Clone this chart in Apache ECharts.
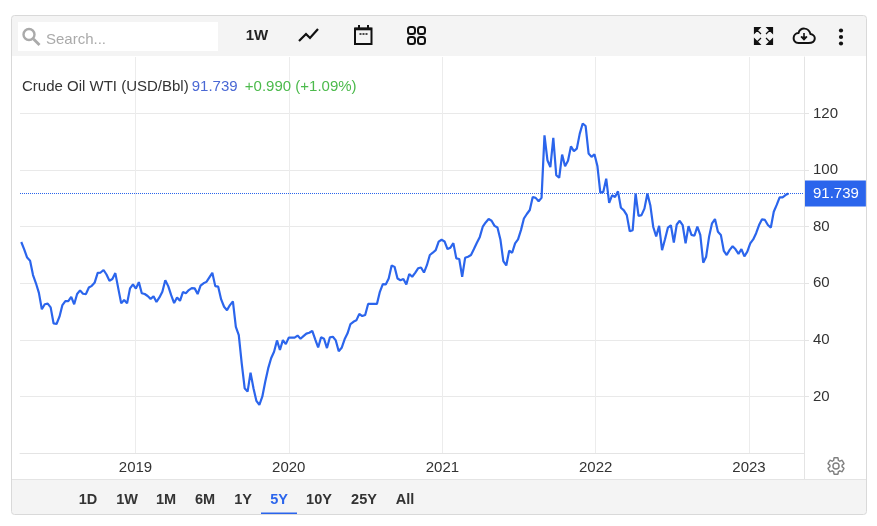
<!DOCTYPE html>
<html>
<head>
<meta charset="utf-8">
<title>Crude Oil WTI</title>
<style>
  html, body { margin: 0; padding: 0; background: #fff; }
  #chart { width: 877px; height: 526px; }
</style>
<script src="https://cdn.jsdelivr.net/npm/echarts@6/dist/echarts.min.js"></script>
</head>
<body>
<div id="chart"></div>
<script>
// weekly closes
const prices = [
  74.6, 72.0, 69.1, 68.0, 62.9, 60.0, 56.6, 50.8, 52.6, 52.8, 51.5, 45.8, 45.6, 48.2, 52.3, 53.7, 53.7, 55.2, 52.6, 56.2,
  57.5, 56.3, 56.2, 58.5, 59.1, 60.3, 63.7, 63.8, 64.7, 63.1, 60.9, 61.5, 63.6, 58.2, 52.9, 54.1, 52.9, 58.2, 59.6, 58.1,
  60.4, 56.5, 56.2, 55.5, 54.5, 55.4, 53.4, 55.0, 57.0, 61.1, 59.0, 55.8, 53.0, 55.0, 53.8, 56.9, 56.5, 57.6, 58.3, 58.2,
  56.2, 59.2, 60.0, 60.5, 62.1, 63.7, 59.0,
  58.8, 54.3, 51.7, 50.5, 52.3, 53.6, 44.6, 41.7, 31.7, 22.9, 21.7, 28.4, 22.9, 18.4, 17.0, 19.9, 25.2, 29.9, 33.5, 35.8,
  39.8, 36.4, 39.9, 38.5, 40.8, 40.8, 40.8, 41.5, 40.4, 41.3, 42.2, 42.5, 43.2, 40.2, 37.3, 40.9, 40.4, 37.1, 40.9, 41.1,
  39.8, 36.0, 37.2, 40.2, 42.3, 45.6, 46.4, 46.9, 49.2, 48.4, 48.8, 52.7, 52.7, 52.7, 52.7, 57.0, 59.7, 59.6, 61.7, 66.3,
  65.8, 61.7, 61.1,
  61.5, 59.6, 63.3, 62.3, 63.7, 65.3, 65.6, 63.8, 66.4, 70.0, 70.8, 71.7, 74.7, 75.4, 74.8, 72.1, 72.6, 74.2, 68.8, 68.6,
  62.3, 69.0, 69.4, 70.0, 72.1, 74.3, 76.4, 80.0, 81.5, 82.7, 82.1, 80.3, 79.7, 75.5, 67.8, 66.3, 71.5, 70.8, 74.1, 75.5,
  78.8, 82.9, 84.5, 85.9, 90.5,
  90.2, 89.0, 90.2, 112.3, 103.5, 101.1, 111.4, 98.2, 97.3, 105.5, 101.4, 103.3, 108.4, 106.7, 107.6, 112.9, 116.5, 115.6,
  105.9, 104.7, 105.6, 101.5, 92.0, 92.3, 97.0, 88.4, 91.1, 90.5, 92.5, 86.7, 85.8, 84.1, 78.4, 78.8, 91.7, 83.8, 84.1,
  86.4, 91.7, 87.6, 79.9, 76.6, 80.3, 71.7, 75.6, 79.7, 80.5,
  74.4, 80.8, 82.1, 80.6, 74.1, 80.2, 77.1, 76.8, 80.0, 77.1, 67.3, 69.4, 76.5, 81.2, 82.7, 78.2, 77.1, 71.5, 70.0, 71.8,
  73.1, 72.0, 70.4, 72.1, 69.5, 71.2, 74.1, 75.5, 77.7, 80.6, 82.6, 82.4, 80.6, 79.7, 85.3, 87.7, 90.4, 90.4, 91.2, 91.739
];
const yearTicks = ['2019-01-01', '2020-01-01', '2021-01-01', '2022-01-01', '2023-01-01'];
const priceTicks = [20, 40, 60, 80, 100, 120];
const ranges = [['1D', 88], ['1W', 127], ['1M', 166], ['6M', 205], ['1Y', 243], ['5Y', 279], ['10Y', 319], ['25Y', 364], ['All', 405]];
const lastPrice = prices[prices.length - 1];

const BLUE = '#2b65ec';
const DARK = '#333333';
const FONT = '"Liberation Sans", Arial';
const WEEK = 7 * 24 * 3600 * 1000;
const startTime = Date.UTC(2018, 3, 4);
const lineData = prices.map((p, i) => [startTime + i * WEEK, p]);
const yearTimes = yearTicks.map(d => Date.parse(d));

const box = (x, y, width, height, fill, extra) => ({
  type: 'rect', silent: true, z: 10,
  shape: Object.assign({ x, y, width, height }, extra && extra.shape),
  style: Object.assign({ fill }, extra && extra.style)
});
const label = (text, x, y, style) => ({
  type: 'text', silent: true, z: 11, x, y,
  style: Object.assign({ text, font: `bold 14.5px ${FONT}`, fill: DARK, textAlign: 'center', textVerticalAlign: 'middle' }, style)
});
const square = (x, y) => ({
  type: 'rect', silent: true, z: 11,
  shape: { x, y, width: 7, height: 7, r: 2.5 },
  style: { fill: 'none', stroke: '#111', lineWidth: 2 }
});

// the graphic component has no path type, so each icon gets registered as its own shape
let iconCount = 0;
const icon = (pathData, style, place) => {
  const name = 'toolIcon' + iconCount++;
  echarts.graphic.registerShape(name, echarts.graphic.extendPath(pathData, {}));
  return Object.assign({
    type: name, silent: true, z: 11,
    style: Object.assign({ fill: 'none', stroke: '#111', lineWidth: 2 }, style)
  }, place);
};

const gear = 'M19.14 12.94c.04-.3.06-.61.06-.94 0-.32-.02-.64-.07-.94l2.03-1.58c.18-.14.23-.41.12-.61l-1.92-3.32c-.12-.22-.37-.29-.59-.22l-2.39.96c-.5-.38-1.03-.7-1.62-.94l-.36-2.54c-.04-.24-.24-.41-.48-.41h-3.84c-.24 0-.43.17-.47.41l-.36 2.54c-.59.24-1.13.57-1.62.94l-2.39-.96c-.22-.08-.47 0-.59.22L2.74 8.87c-.12.21-.08.47.12.61l2.03 1.58c-.05.3-.09.63-.09.94s.02.64.07.94l-2.03 1.58c-.18.14-.23.41-.12.61l1.92 3.32c.12.22.37.29.59.22l2.39-.96c.5.38 1.03.7 1.62.94l.36 2.54c.05.24.24.41.48.41h3.84c.24 0 .44-.17.47-.41l.36-2.54c.59-.24 1.13-.56 1.62-.94l2.39.96c.22.08.47 0 .59-.22l1.92-3.32c.12-.22.07-.47-.12-.61l-2.01-1.58zM12 15.6c-1.98 0-3.6-1.62-3.6-3.6s1.62-3.6 3.6-3.6 3.6 1.62 3.6 3.6-1.62 3.6-3.6 3.6z';

const graphics = [
  // frame and bars
  box(12, 16, 854, 40, '#f4f4f4'),
  box(12, 479, 854, 35, '#f4f4f4'),
  box(18, 22, 200, 29, '#ffffff'),
  { type: 'line', silent: true, z: 11, shape: { x1: 12, y1: 479.5, x2: 866, y2: 479.5 }, style: { stroke: '#e4e4e4' } },
  { type: 'line', silent: true, z: 11, shape: { x1: 804.5, y1: 453, x2: 804.5, y2: 479 }, style: { stroke: '#e4e4e4' } },
  box(11.5, 15.5, 855, 499, 'none', { shape: { r: 3 }, style: { stroke: '#d9d9d9', lineWidth: 1 } }),

  // search box
  { type: 'circle', silent: true, z: 11, shape: { cx: 29, cy: 34.5, r: 5.5 }, style: { fill: 'none', stroke: '#aaaaaa', lineWidth: 2.4 } },
  icon('M33.5 39 L39.5 45', { stroke: '#aaaaaa', lineWidth: 2.8 }),
  label('Search...', 46, 39.5, { font: `15px ${FONT}`, fill: '#aaaaaa', textAlign: 'left' }),

  // toolbar
  label('1W', 257, 36, { font: `bold 15px ${FONT}`, fill: '#222' }),
  icon('M299 41 L306 34 L310 38 L318 29', { lineWidth: 2.2 }),
  icon('M355 28.5 H371.5 V44 H355 Z M359 25 V28 M368 25 V28'),
  icon('M355 29 H371.5', { lineWidth: 2.6 }),
  icon('M359.5 34 H367.5', { lineWidth: 1.5, lineDash: [2, 1] }),
  square(408, 27), square(418, 27), square(408, 37), square(418, 37),
  icon('M754.5 33 V27.5 H760 Z M772.5 33 V27.5 H767 Z M754.5 39 V44.5 H760 Z M772.5 39 V44.5 H767 Z M757 30 L761 34 M770 30 L766 34 M757 42 L761 38 M770 42 L766 38', { fill: '#111', lineWidth: 1.2 }),
  icon('M798.5 43 H808.5 C816.5 43 816.5 35 810.5 34 C808.5 27 800.5 27 798.5 33 C792.5 33 791.5 43 798.5 43 Z'),
  icon('M804 33 V38 M801 36.5 L804 39.5 L807 36.5', { fill: '#111', lineWidth: 1.6 }),
  { type: 'circle', silent: true, z: 11, shape: { cx: 841, cy: 30.5, r: 2.1 }, style: { fill: '#111' } },
  { type: 'circle', silent: true, z: 11, shape: { cx: 841, cy: 37, r: 2.1 }, style: { fill: '#111' } },
  { type: 'circle', silent: true, z: 11, shape: { cx: 841, cy: 43.5, r: 2.1 }, style: { fill: '#111' } },

  // settings gear
  icon(gear, { stroke: '#808080', lineWidth: 1.7 }, { x: 825.8, y: 455.8, scaleX: 0.85, scaleY: 0.85 }),

  // range selector
  box(261, 512.5, 36, 1.5, BLUE)
].concat(ranges.map(r => label(r[0], r[1], 500, r[0] === '5Y' ? { fill: BLUE } : {})));

const chart = echarts.init(document.getElementById('chart'), null, { renderer: 'canvas' });
chart.setOption({
  animation: false,
  backgroundColor: '#ffffff',
  textStyle: { fontFamily: FONT },
  title: {
    left: 22,
    top: 79,
    padding: 0,
    text: `{n|Crude Oil WTI (USD/Bbl)}{s| }{p|${lastPrice.toFixed(3)}}{g|  }{c|+0.990 (+1.09%)}`,
    textStyle: {
      rich: {
        n: { fontSize: 15, fontWeight: 'normal', color: DARK, fontFamily: FONT },
        s: { fontSize: 11, fontWeight: 'normal', fontFamily: FONT },
        p: { fontSize: 15, fontWeight: 'normal', color: '#4a68d4', fontFamily: FONT },
        g: { fontSize: 13, fontWeight: 'normal', fontFamily: FONT },
        c: { fontSize: 15, fontWeight: 'normal', color: '#4cba4c', fontFamily: FONT }
      }
    }
  },
  grid: { left: 20, right: 73, top: 57, bottom: 73 },
  xAxis: {
    // plain value axis over timestamps, so the ticks can sit on the year starts
    type: 'value',
    min: Date.UTC(2018, 3, 1),
    max: Date.UTC(2023, 4, 12),
    axisLine: { onZero: false, lineStyle: { color: '#e4e4e4' } },
    axisTick: { show: false, customValues: yearTimes },
    splitLine: { show: true, lineStyle: { color: '#ececec' } },
    axisLabel: {
      customValues: yearTimes,
      formatter: v => String(new Date(v).getUTCFullYear()),
      color: DARK,
      fontSize: 15,
      margin: 7,
      showMinLabel: true,
      showMaxLabel: true
    }
  },
  yAxis: {
    type: 'value',
    position: 'right',
    min: 0,
    max: 140,
    interval: 20,
    axisLine: { show: true, lineStyle: { color: '#e4e4e4' } },
    axisTick: { show: true, length: 5, customValues: priceTicks, lineStyle: { color: '#e4e4e4' } },
    splitLine: { show: true, lineStyle: { color: '#e9e9e9' } },
    axisLabel: { customValues: priceTicks, color: DARK, fontSize: 15, margin: 9, padding: [0, 0, 3, 0] }
  },
  series: [{
    type: 'line',
    data: lineData,
    showSymbol: false,
    smooth: false,
    lineStyle: { color: BLUE, width: 2.2 },
    markLine: {
      silent: true,
      symbol: 'none',
      animation: false,
      lineStyle: { color: BLUE, type: 'dotted', width: 1 },
      data: [{ yAxis: lastPrice }],
      label: {
        show: true,
        position: 'end',
        distance: 1,
        formatter: lastPrice.toFixed(3),
        color: '#fff',
        fontSize: 15,
        backgroundColor: BLUE,
        padding: [6, 7, 5, 8]
      }
    }
  }],
  graphic: graphics
});
</script>
</body>
</html>
